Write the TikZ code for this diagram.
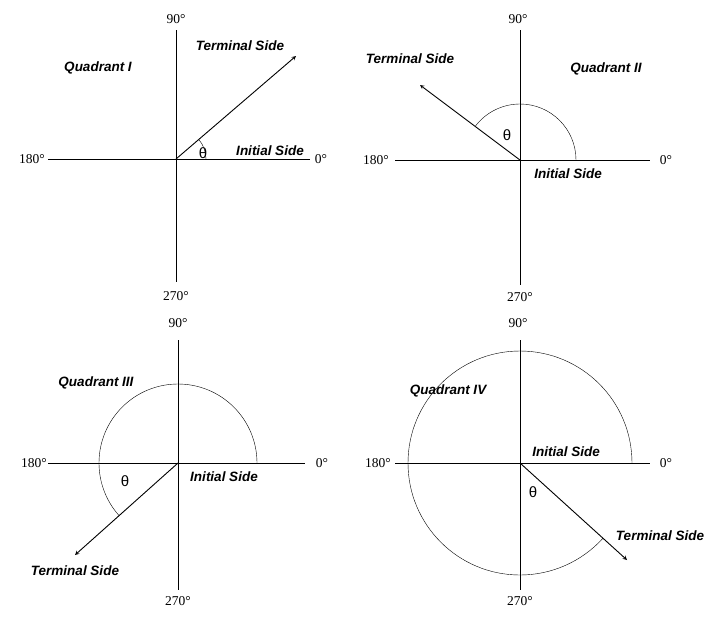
\documentclass[tikz,border=0pt]{standalone}
\usepackage{fontspec}
\setmainfont{Liberation Serif}
\newfontfamily\arial{Liberation Sans}
\begin{document}
\begin{tikzpicture}[x=1pt,y=-1pt,
  ax/.style={line width=0.5pt},
  vec/.style={line width=0.9pt,-stealth},
  lab/.style={font=\arial\bfseries\itshape\fontsize{13.5}{15}\selectfont},
  deg/.style={font=\fontsize{13.5}{15}\selectfont},
  th/.style={font=\arial\fontsize{15}{17}\selectfont}]
\useasboundingbox (0,0) rectangle (725,638);
% Panel I
\coordinate (o1) at (176,159);
\draw[ax] (48,159) -- (310,159); \draw[ax] (176,30) -- (176,282);
\node[deg] (a1) at (32,159) {180°}; \node[deg] (b1) at (321,159) {0°};
\node[deg] (c1) at (176,19) {90°}; \node[deg] (d1) at (176,296) {270°};
\coordinate (t1) at (296,56);
\draw[vec] (o1) -- (t1);
\draw (206,159) arc[start angle=0,end angle=-40.6,radius=30];
\node[lab] (q1) at (98,68) {Quadrant I};
\node[lab] (ts1) at (240,46) {Terminal Side};
\node[lab] (is1) at (270,151) {Initial Side};
\node[th] (th1) at (203,153) {θ};
% Panel II
\coordinate (o2) at (520,160);
\draw[ax] (395,160) -- (650,160); \draw[ax] (520,30) -- (520,285);
\node[deg] (a2) at (376,160) {180°}; \node[deg] (b2) at (666,160) {0°};
\node[deg] (c2) at (518,19) {90°}; \node[deg] (d2) at (520,297) {270°};
\coordinate (t2) at (420,85);
\draw[vec] (o2) -- (t2);
\draw (576,160) arc[start angle=0,end angle=-143,radius=56];
\node[lab] (q2) at (606,69) {Quadrant II};
\node[lab] (ts2) at (410,59) {Terminal Side};
\node[lab] (is2) at (568,174) {Initial Side};
\node[th] (th2) at (507,135) {θ};
% Panel III
\coordinate (o3) at (178,463);
\draw[ax] (48,463) -- (305,463); \draw[ax] (178,340) -- (178,590);
\node[deg] (a3) at (34,463) {180°}; \node[deg] (b3) at (322,463) {0°};
\node[deg] (c3) at (178,323) {90°}; \node[deg] (d3) at (178,601) {270°};
\coordinate (t3) at (75,555);
\draw[vec] (o3) -- (t3);
\draw (257,463) arc[start angle=0,end angle=-221.8,radius=79];
\node[lab] (q3) at (96,383) {Quadrant III};
\node[lab] (ts3) at (75,571) {Terminal Side};
\node[lab] (is3) at (224,477) {Initial Side};
\node[th] (th3) at (125,481) {θ};
% Panel IV
\coordinate (o4) at (520,463);
\draw[ax] (395,463) -- (650,463); \draw[ax] (520,340) -- (520,590);
\node[deg] (a4) at (378,463) {180°}; \node[deg] (b4) at (666,463) {0°};
\node[deg] (c4) at (518,323) {90°}; \node[deg] (d4) at (520,601) {270°};
\coordinate (t4) at (627,560);
\draw[vec] (o4) -- (t4);
\draw (632,463) arc[start angle=0,end angle=-317.8,radius=112];
\node[lab] (q4) at (448,391) {Quadrant IV};
\node[lab] (ts4) at (660,536) {Terminal Side};
\node[lab] (is4) at (566,452) {Initial Side};
\node[th] (th4) at (533,492) {θ};
\end{tikzpicture}
\end{document}
